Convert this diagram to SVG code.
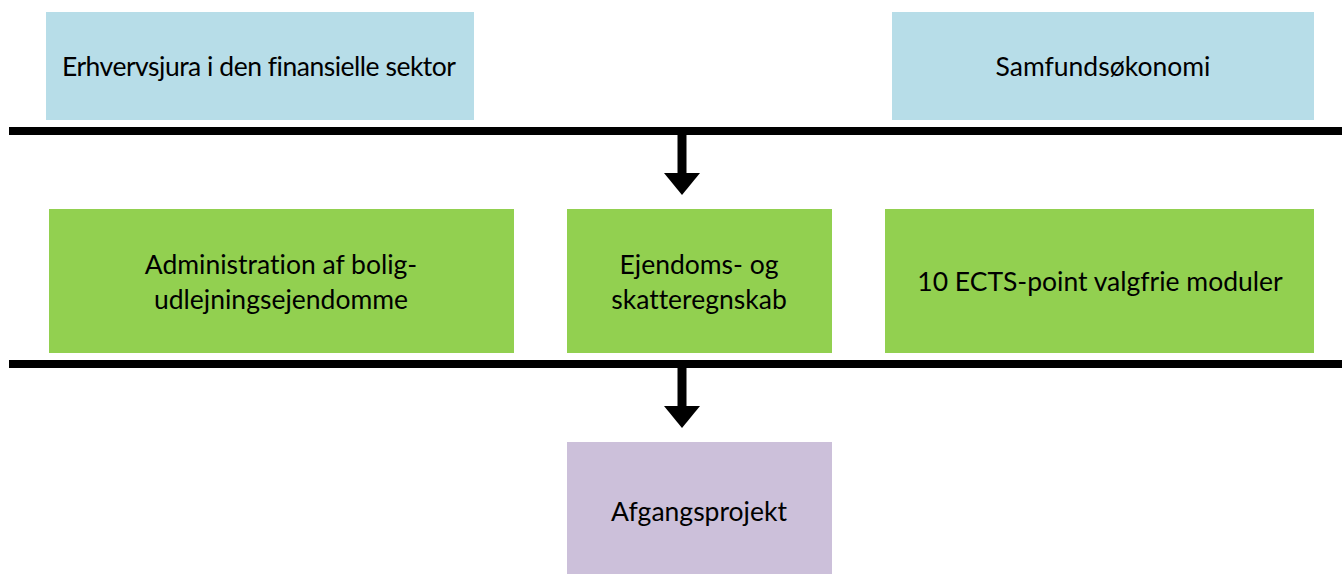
<svg xmlns="http://www.w3.org/2000/svg" width="1342" height="575" viewBox="0 0 1342 575">
<style>
.t{font-family:Lato,"Open Sans","Liberation Sans",sans-serif;font-size:26.5px;fill:#000;text-anchor:middle;font-variant-ligatures:none}
.blue{fill:#b7dde8}
.green{fill:#92d050}
.purple{fill:#ccc0da}
.bar{stroke:#000;stroke-width:8;fill:none}
.stem{stroke:#000;stroke-width:9;fill:none}
</style>
<rect width="1342" height="575" fill="#fff"/>
<g id="erhvervsjura"><rect class="blue" x="46" y="12" width="428" height="108"/><text class="t" x="259" y="76" textLength="394">Erhvervsjura i den finansielle sektor</text></g>
<g id="samfundsokonomi"><rect class="blue" x="892" y="12" width="422" height="108"/><text class="t" x="1103" y="76">Samfundsøkonomi</text></g>
<g id="administration"><rect class="green" x="49" y="209" width="465" height="144"/><text class="t" x="281" y="274">Administration af bolig-</text><text class="t" x="281" y="309">udlejningsejendomme</text></g>
<g id="ejendoms"><rect class="green" x="567" y="209" width="265" height="144"/><text class="t" x="699" y="274">Ejendoms- og</text><text class="t" x="699" y="309">skatteregnskab</text></g>
<g id="valgfrie"><rect class="green" x="885" y="209" width="429" height="144"/><text class="t" x="1100" y="291">10 ECTS-point valgfrie moduler</text></g>
<g id="afgangsprojekt"><rect class="purple" x="567" y="442" width="265" height="132"/><text class="t" x="699" y="521">Afgangsprojekt</text></g>
<g id="connectors">
<line class="bar" x1="9" y1="131" x2="1342" y2="131"/>
<line class="stem" x1="682" y1="131" x2="682" y2="175"/>
<polygon points="664,173 700,173 682,195"/>
<line class="bar" x1="9" y1="364" x2="1342" y2="364"/>
<line class="stem" x1="682" y1="364" x2="682" y2="408"/>
<polygon points="664,406 700,406 682,428"/>
</g>
</svg>
